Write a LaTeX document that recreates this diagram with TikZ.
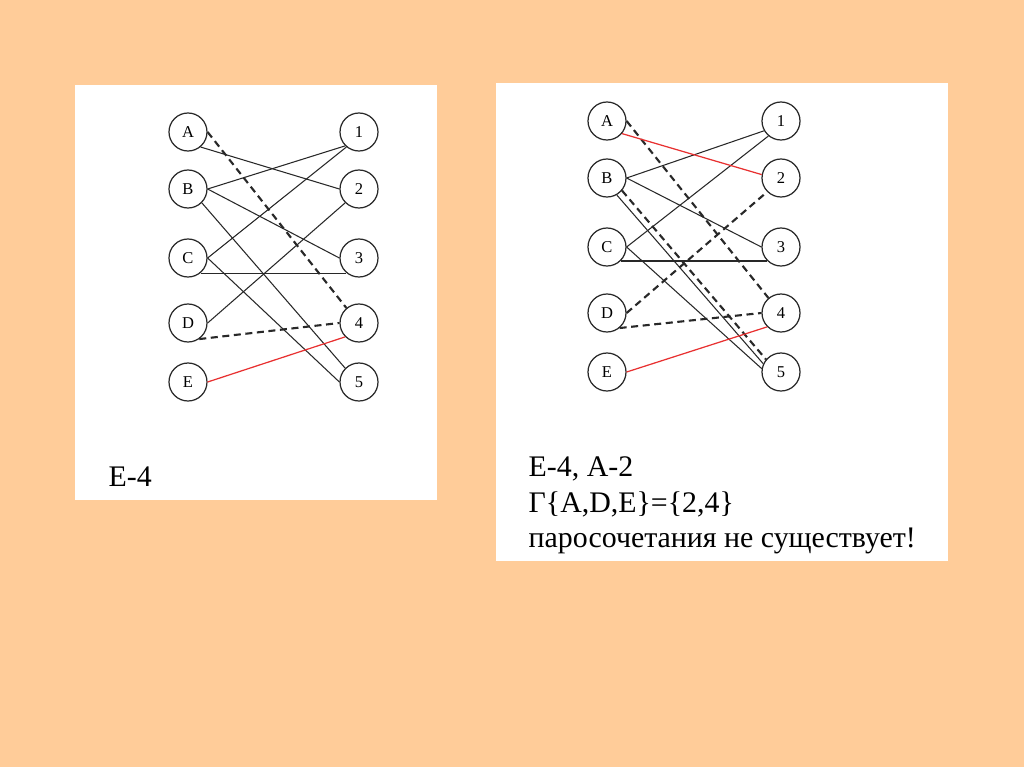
\documentclass[tikz,border=0pt]{standalone}
\usepackage{fontspec}
\setmainfont{Liberation Serif}
\usepackage{xcolor}
\definecolor{peach}{RGB}{255,204,153}
\definecolor{matchred}{RGB}{232,48,48}
\definecolor{ink}{RGB}{40,40,40}

\begin{document}
\begin{tikzpicture}[x=0.1mm, y=-0.1mm,
    vtx/.style={draw=ink, circle, line width=0.35pt, minimum size=3.8mm, inner sep=0pt,
                font=\fontsize{4.7}{5}\selectfont},
    edge/.style={line width=0.3pt, color=ink},
    alt/.style={line width=0.6pt, color=ink, dash pattern=on 2pt off 1.3pt},
    matched/.style={line width=0.35pt, color=matchred},
    note/.style={anchor=base west, inner sep=0pt, font=\fontsize{8.5}{10}\selectfont}]

    % Background and the two white panels
    \fill[peach] (0,0) rectangle (1024,767);
    \useasboundingbox (0,0) rectangle (1024,767);
    \fill[white] (75,85) rectangle (437,500);
    \fill[white] (496,83) rectangle (948,561);

    % Left panel: vertices
    \foreach \n/\y in {A/132, B/189, C/258, D/323, E/382}
        \node[vtx] (l\n) at (188,\y) {\n};
    \foreach \n/\y in {1/132, 2/189, 3/258, 4/323, 5/382}
        \node[vtx] (l\n) at (359,\y) {\n};

    % Left panel: edges
    \draw[edge] (lA.-50) -- (l2.west);
    \draw[edge] (lB.east) -- (l1.-135);
    \draw[edge] (lB.east) -- (l3.west);
    \draw[edge] (lB.-45) -- (l5.135);
    \draw[edge] (lC.east) -- (l1.-130);
    \draw[edge] (lC.-50) -- (l3.-130);
    \draw[edge] (lC.east) -- (l5.west);
    \draw[edge] (lD.east) -- (l2.-135);
    \draw[alt] (lA.east) -- (l4.130);
    \draw[alt] (lD.-55) -- (l4.west);
    \draw[matched] (lE.east) -- (l4.-135);

    % Left panel: text
    \node[note] (ltxt) at (108,486) {E-4};

    % Right panel: vertices
    \foreach \n/\y in {A/121, B/178, C/247, D/313, E/372}
        \node[vtx] (r\n) at (607,\y) {\n};
    \foreach \n/\y in {1/121, 2/178, 3/247, 4/313, 5/372}
        \node[vtx] (r\n) at (781,\y) {\n};

    % Right panel: edges
    \draw[edge] (rB.east) -- (r1.-150);
    \draw[edge] (rB.east) -- (r3.west);
    \draw[edge] (rB.-60) -- (r5.155);
    \draw[edge] (rC.east) -- (r1.-130);
    \draw[edge, line width=0.6pt] (rC.-45) -- (r3.-135);
    \draw[edge] (rC.east) -- (r5.170);
    \draw[alt] (rA.east) -- (r4.130);
    \draw[alt] (rB.-40) -- (r5.140);
    \draw[alt] (rD.east) -- (r2.-135);
    \draw[alt] (rD.-50) -- (r4.west);
    \draw[matched] (rA.-40) -- (r2.170);
    \draw[matched] (rE.east) -- (r4.-135);

    % Right panel: text
    \node[note] (rtxt1) at (528,476) {E-4, A-2};
    \node[note] (rtxt2) at (528,512) {Г\{A,D,E\}=\{2,4\}};
    \node[note] (rtxt3) at (528,547) {паросочетания не существует!};

\end{tikzpicture}
\end{document}
